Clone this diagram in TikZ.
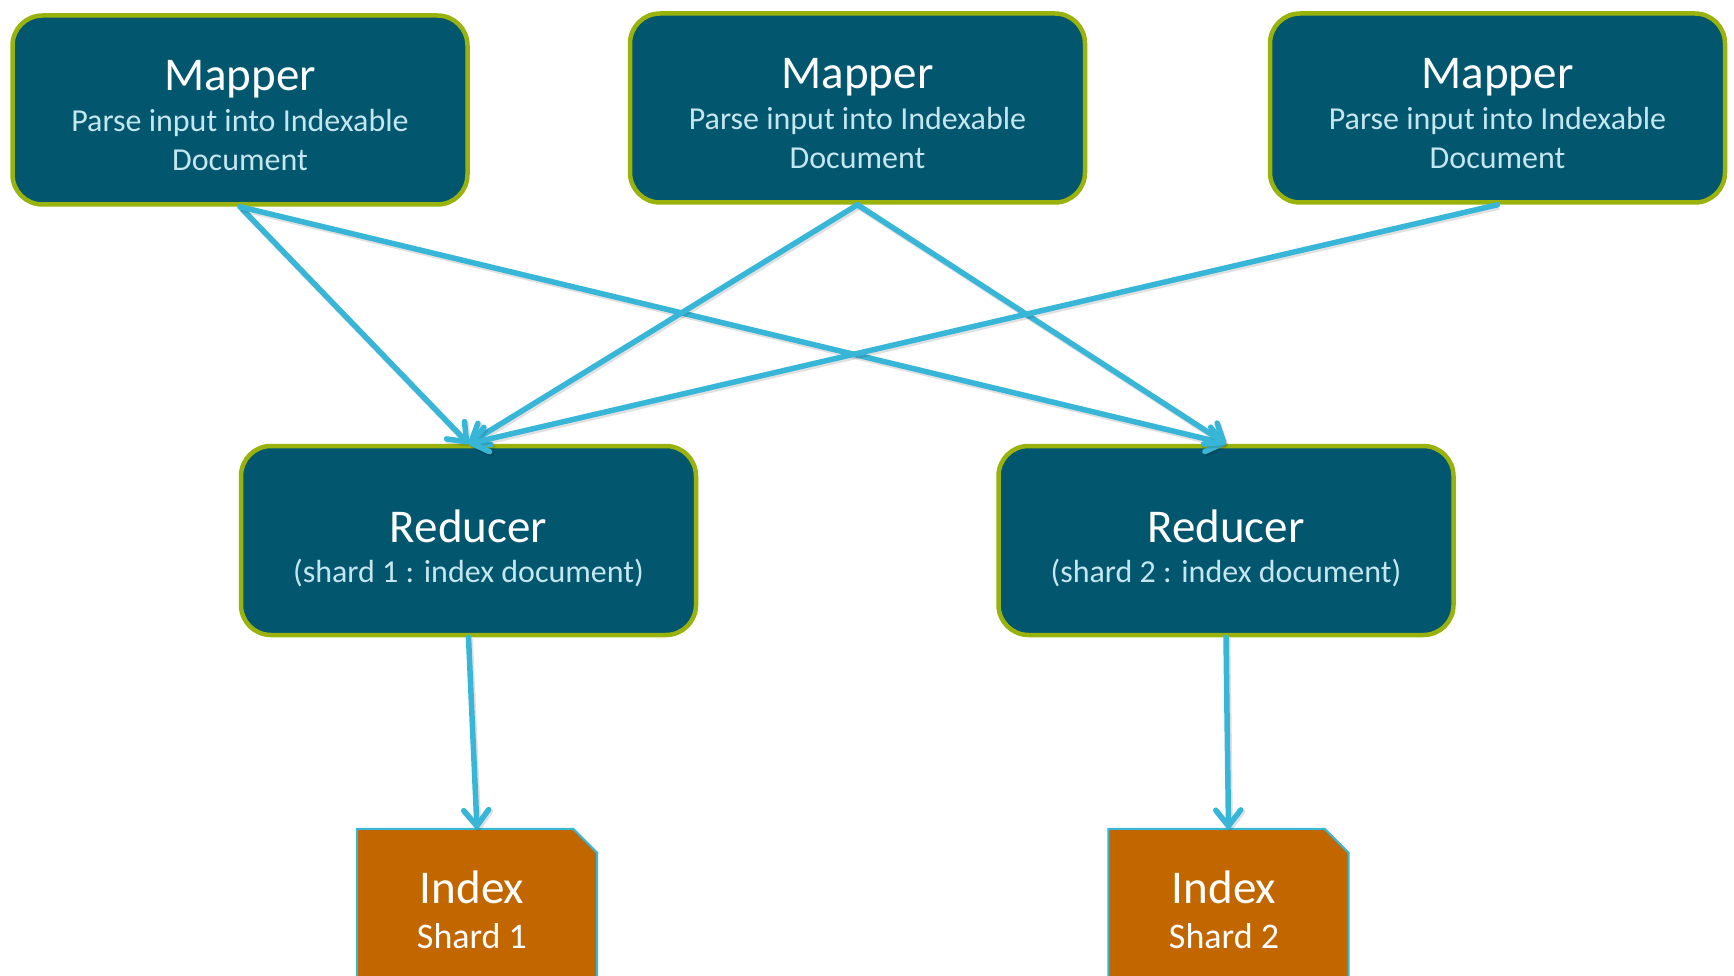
\documentclass[tikz,border=0pt]{standalone}
\usepackage{fontspec}
\setmainfont{Carlito}
\usetikzlibrary{arrows.meta}
\definecolor{boxfill}{HTML}{02566E}
\definecolor{boxedge}{HTML}{9AB30C}
\definecolor{flow}{HTML}{38B6D8}
\definecolor{subtext}{HTML}{C4E6F0}
\definecolor{shardfill}{HTML}{C26700}

\begin{document}
\begin{tikzpicture}[x=1pt,y=-1pt,
  stage/.style={draw=boxedge, line width=4.5pt, fill=boxfill, rounded corners=30pt,
    minimum width=455pt, minimum height=189pt, inner sep=0pt},
  title/.style={anchor=base, text=white, font=\fontsize{47}{50}\selectfont, inner sep=0pt},
  note/.style={anchor=base, text=subtext, font=\fontsize{32}{36}\selectfont, inner sep=0pt},
  shardtext/.style={anchor=base, text=white, inner sep=0pt},
  flowarrow/.style={draw=flow, line width=5.5pt, line cap=round,
    -{Straight Barb[length=16pt,width=25pt,line cap=round,line join=round]},
    preaction={draw=black, opacity=0.12, line width=6pt,
      transform canvas={shift={(1.5pt,-2pt)}}}},
  shard/.style={minimum width=240pt, minimum height=150pt, inner sep=0pt},
]
\useasboundingbox (0,0) rectangle (1734,976);

% mapper and reducer boxes
\node[stage] (m1) at (240,110) {};
\node[stage] (m2) at (857.5,108) {};
\node[stage] (m3) at (1497.5,108) {};
\node[stage] (r1) at (468.5,540.5) {};
\node[stage] (r2) at (1226,540.5) {};

% index shards: rectangles with a snipped top-right corner
\node[shard] (s1) at (477,904) {};
\node[shard] (s2) at (1228.5,904) {};
\foreach \s in {s1,s2}{
  \filldraw[fill=shardfill, draw=flow, line width=2pt]
    (\s.north west) -- ([xshift=-24pt]\s.north east) -- ([yshift=-24pt]\s.north east)
    -- (\s.south east) -- (\s.south west) -- cycle;
}

% box texts
\node[title] (m1t) at (240,91) {Mapper};
\node[note] (m1a) at (240,132) {Parse input into Indexable};
\node[note] (m1b) at (240,171) {Document};
\node[title] (m2t) at (857.5,89) {Mapper};
\node[note] (m2a) at (857.5,130) {Parse input into Indexable};
\node[note] (m2b) at (857.5,169) {Document};
\node[title] (m3t) at (1497.5,89) {Mapper};
\node[note] (m3a) at (1497.5,130) {Parse input into Indexable};
\node[note] (m3b) at (1497.5,169) {Document};

\node[title] (r1t) at (468.5,542) {Reducer};
\node[note] (r1a) at (468.5,582) {(shard 1 : index document)};
\node[title] (r2t) at (1226,542) {Reducer};
\node[note] (r2a) at (1226,582) {(shard 2 : index document)};

\node[shardtext, font=\fontsize{47}{50}\selectfont] (s1t) at (472,903) {Index};
\node[shardtext, font=\fontsize{36}{40}\selectfont] (s1a) at (472,948) {Shard 1};
\node[shardtext, font=\fontsize{47}{50}\selectfont] (s2t) at (1224,903) {Index};
\node[shardtext, font=\fontsize{36}{40}\selectfont] (s2a) at (1224,948) {Shard 2};

% data flow
\draw[flowarrow] (m1.south) -- (r1.north);
\draw[flowarrow] (m1.south) -- (r2.north);
\draw[flowarrow] (m2.south) -- (r1.north);
\draw[flowarrow] (m2.south) -- (r2.north);
\draw[flowarrow] (m3.south) -- (r1.north);
\draw[flowarrow] (r1.south) -- (s1.north);
\draw[flowarrow] (r2.south) -- (s2.north);
\end{tikzpicture}
\end{document}
